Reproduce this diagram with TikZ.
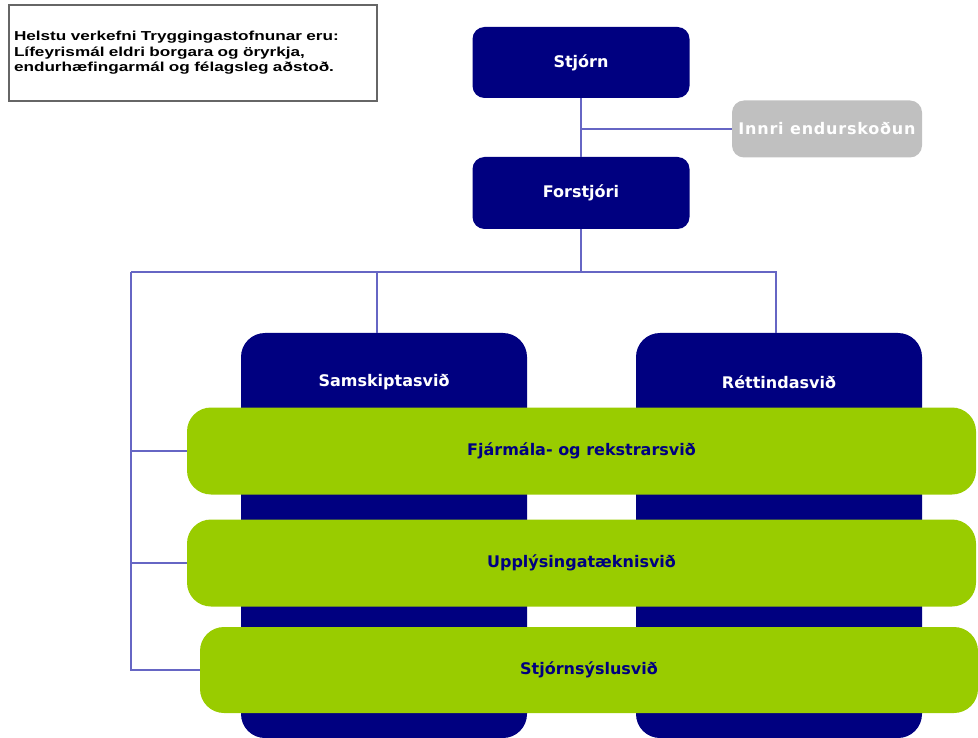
\documentclass[tikz,border=0pt]{standalone}
\usepackage{fontspec}
\newfontfamily\boxfont{DejaVu Sans}
\newfontfamily\spacedfont[LetterSpace=5]{DejaVu Sans}
\newfontfamily\notefont[FakeStretch=1.32]{Liberation Sans}
\definecolor{navy}{HTML}{000080}
\definecolor{lime}{HTML}{99CC00}
\definecolor{linkblue}{HTML}{6666C4}
\definecolor{softgray}{HTML}{C0C0C0}
\tikzset{
  unit/.style={rounded corners=12pt,fill=navy,text=white,
    font=\boxfont\bfseries\fontsize{16}{19}\selectfont},
  division/.style={rounded corners=24pt,fill=navy,minimum width=286pt,minimum height=405pt},
  divlabel/.style={anchor=center,yshift=-49pt,text=white,
    font=\boxfont\bfseries\fontsize{16}{19}\selectfont},
  band/.style={rounded corners=24pt,fill=lime,text=navy,minimum height=87pt,
    font=\boxfont\bfseries\fontsize{16}{19}\selectfont},
  link/.style={draw=linkblue,line width=1.5pt}
}
\begin{document}
\begin{tikzpicture}[x=1pt,y=-1pt]
        \useasboundingbox (0,0) rectangle (978,738);
        \begin{scope}
            % note box
            \node (note) at (193,53) [draw=gray!80!black,line width=1.2pt,minimum width=368pt,
              minimum height=96pt,align=left,text width=358pt,
              font=\notefont\bfseries\fontsize{13}{15.5}\selectfont]
              {Helstu verkefni Tryggingastofnunar eru:\\
               L\'ifeyrism\'al eldri borgara og \"oryrkja,\\
               endurh\ae fingarm\'al og f\'elagsleg a\dh sto\dh.};
            \begin{scope}[every node/.style={unit}]
              \node (stjorn) at (581,62.5) [minimum width=217pt,minimum height=71pt] {Stj\'orn};
              \node (forstjori) at (581,193) [minimum width=217pt,minimum height=72pt] {Forstj\'ori};
              \node (innri) at (827,129) [fill=softgray,minimum width=190pt,minimum height=57pt,
                font=\spacedfont\bfseries\fontsize{16}{19}\selectfont] {Innri endursko\dh un};
            \end{scope}
            \node (samsk) at (384,535.5) [division,label={[divlabel]north:Samskiptasvi\dh}] {};
            \node (rett) at (779,535.5) [division,label={[divlabel]north:R\'ettindasvi\dh}] {};
            \begin{scope}[every node/.style={band}]
              \node (fjarmal) at (581.5,451) [minimum width=789pt] {Fj\'arm\'ala- og rekstrarsvi\dh};
              \node (upplys) at (581.5,563) [minimum width=789pt] {Uppl\'ysingat\ae knisvi\dh};
              \node (stjornsys) at (589,670) [minimum width=778pt,minimum height=86pt] {Stj\'orns\'yslusvi\dh};
            \end{scope}
            \coordinate (bus) at (581,272);
            \coordinate (spine) at (131,272);
            % connectors
            \draw[link] (stjorn) -- (forstjori)
                        (innri.west) -- (innri.west -| stjorn.south)
                        (forstjori) -- (bus)
                        (bus) -| ([xshift=-7pt]samsk.north)
                        (bus) -| ([xshift=-3pt]rett.north)
                        (spine) -- (bus)
                        (spine) |- (fjarmal.west)
                        (spine) |- (upplys.west)
                        (spine) |- (stjornsys.west);
        \end{scope}
    \end{tikzpicture}
\end{document}
